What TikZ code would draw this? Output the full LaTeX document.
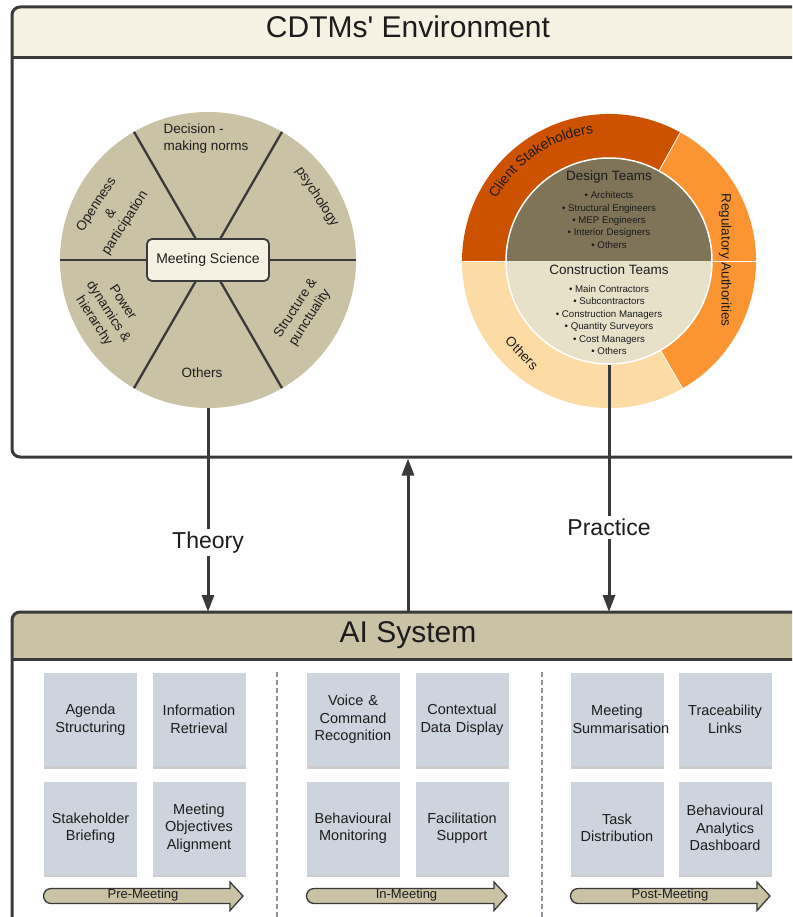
\documentclass[tikz,border=0pt]{standalone}
\usepackage{fontspec}
\setmainfont{Liberation Sans}
\usetikzlibrary{arrows.meta,shadows,decorations.text,calc}

\definecolor{boxink}{HTML}{3A3A3A}
\definecolor{envhead}{HTML}{F6F2E3}
\definecolor{khaki}{HTML}{CAC2A5}
\definecolor{notefill}{HTML}{CED4DD}
\definecolor{clientorange}{HTML}{CC5200}
\definecolor{regorange}{HTML}{FB9533}
\definecolor{otherpeach}{HTML}{FDDBA5}
\definecolor{designbrown}{HTML}{7F7358}
\definecolor{constcream}{HTML}{E7E1CA}
\definecolor{textink}{HTML}{1C1C1C}
\definecolor{dashgray}{HTML}{8E949C}

\newcommand\myfs[2]{\fontsize{#1pt}{#2pt}\selectfont}

% rounded-tail arrow used for the meeting phases: #1 left x, #2 tip x, #3 name, #4 label
\newcommand\phasearrow[4]{%
  \draw[phasebar] (#1+8,-903.5) arc[start angle=270,end angle=90,radius=7.5]
    -- (#2-13,-888.5) -- (#2-13,-882) -- (#2,-896) -- (#2-13,-910.5)
    -- (#2-13,-903.5) -- cycle;
  \node[phaselabel] (#3) at ({(#1+#2)/2},-895.5) {#4};}

\begin{document}
\begin{tikzpicture}[x=1pt,y=1pt,
  boxline/.style={draw=boxink,line width=3pt},
  headtitle/.style={font=\myfs{30}{36},text=textink,inner sep=0pt},
  spoke/.style={draw=boxink,line width=2.3pt},
  hubbox/.style={draw=boxink,line width=1.8pt,fill=envhead,rounded corners=5pt,
    minimum width=122pt,minimum height=42pt,font=\myfs{14}{17},text=textink},
  sector/.style={font=\myfs{13.5}{17},text=textink,align=center,inner sep=0pt},
  teamhead/.style={font=\myfs{13.5}{16},text=textink,inner sep=0pt},
  teamlist/.style={font=\myfs{9.7}{12.4},text=textink,align=center,inner sep=0pt},
  ringtext/.style={font=\myfs{13.5}{16},text=textink,inner sep=0pt},
  flowarrow/.style={draw=boxink,line width=3pt,-{Triangle[length=17pt,width=12pt]}},
  flowlabel/.style={font=\myfs{23}{27},text=textink,fill=white,inner sep=3pt},
  sticky/.style={fill=notefill,minimum width=93pt,minimum height=93pt,inner sep=2pt,
    text width=89pt,align=center,font=\myfs{14.5}{17.5},text=textink,
    drop shadow={shadow xshift=0pt,shadow yshift=-2.5pt,opacity=0.4}},
  phasebar/.style={draw=boxink,line width=1.3pt,fill=khaki},
  phaselabel/.style={font=\myfs{13}{15},text=textink,inner sep=0pt},
  divider/.style={draw=dashgray,line width=1.3pt,dash pattern=on 5pt off 3pt}]

\useasboundingbox (0,0) rectangle (792,-917);
\clip (0,0) rectangle (792,-917);
\fill[white] (0,0) rectangle (792,-917);

% ---------- environment frame ----------
\fill[envhead,rounded corners=8pt] (12,-57.5) |- (800,-7) [sharp corners] -- (800,-57.5) -- cycle;
\draw[boxline,rounded corners=8pt] (800,-457) -| (12,-7) -- (800,-7);
\draw[boxline] (12,-57.5) -- (800,-57.5);
\node[headtitle,anchor=base] (envtitle) at (408,-38) {CDTMs\textquotesingle{} Environment};

% ---------- meeting science pie ----------
\coordinate (P) at (208,-260);
\node[circle,fill=khaki,minimum size=296pt,inner sep=0pt] (pie) at (P) {};
\foreach \a in {0,60,120}
  \draw[spoke] ($(P)+(\a:148)$) -- ($(P)+(\a+180:148)$);
\node[hubbox] (science) at (P) {Meeting Science};

\node[sector,align=left] (decision) at (206,-139) {Decision -\\making norms};
\node[sector,rotate=-57] (psych) at (317,-197) {psychology};
\node[sector,rotate=57] (structure) at (303,-313) {Structure \&\\punctuality};
\node[sector] (pieothers) at (202,-373) {Others};
\node[sector,rotate=-57] (power) at (108,-312) {Power\\dynamics \&\\hierarchy};
\node[sector,rotate=57] (open) at (111,-214) {Openness\\\&\\participation};

% ---------- stakeholder donut ----------
\coordinate (D) at (609,-261);
\fill[clientorange] (D) -- ++(61:147) arc[start angle=61,end angle=180,radius=147] -- cycle;
\fill[regorange] (D) -- ++(-60:147) arc[start angle=-60,end angle=61,radius=147] -- cycle;
\fill[otherpeach] (D) -- ++(180:147) arc[start angle=180,end angle=300,radius=147] -- cycle;
\foreach \a in {61,180,300,0}
  \draw[white,line width=0.8pt] (D) -- ++(\a:147);
\fill[designbrown] (D) ++(0:103) arc[start angle=0,end angle=180,radius=103] -- cycle;
\fill[constcream] (D) ++(180:103) arc[start angle=180,end angle=360,radius=103] -- cycle;
\node[circle,draw=white,line width=1.5pt,minimum size=206pt,inner sep=0pt] (inner) at (D) {};

\path[decorate,decoration={text along path,text align=center,
  text={|\myfs{14}{16}\color{textink}|Client Stakeholders}}]
  (D) ++(170:128.5) arc[start angle=170,end angle=78,radius=128.5];
\node[ringtext,rotate=-90] (regulatory) at (725,-260) {Regulatory Authorities};
\node[ringtext,rotate=-46] (ringothers) at (522,-353) {Others};

\node[teamhead] (design) at (609,-177) {Design Teams};
\node[teamlist] (designlist) at (609,-220)
  {• Architects\\• Structural Engineers\\• MEP Engineers\\• Interior Designers\\• Others};
\node[teamhead] (construction) at (609,-270) {Construction Teams};
\node[teamlist] (constructionlist) at (609,-320)
  {• Main Contractors\\• Subcontractors\\• Construction Managers\\• Quantity Surveyors\\• Cost Managers\\• Others};

% ---------- AI system frame ----------
\fill[khaki,rounded corners=8pt] (12,-659.5) |- (800,-612) [sharp corners] -- (800,-659.5) -- cycle;
\draw[boxline,rounded corners=8pt] (12,-930) |- (800,-612);
\draw[boxline] (12,-659.5) -- (800,-659.5);
\node[headtitle,anchor=base] (aititle) at (408,-642) {AI System};

% ---------- links between the two frames ----------
\coordinate (aitop) at (0,-612);
\coordinate (aimid) at (408,-612);
\coordinate (envbot) at (408,-458.5);
\draw[flowarrow] (pie.south) -- node[flowlabel,pos=0.658] (theory) {Theory} (pie.south |- aitop);
\draw[flowarrow] (inner.south) -- node[flowlabel,pos=0.657] (practice) {Practice} (inner.south |- aitop);
\draw[flowarrow] (aimid) -- (envbot);

% ---------- AI capabilities ----------
\node[sticky] (agenda) at (90.5,-719.5) {Agenda\\Structuring};
\node[sticky] (retrieval) at (199,-719.5) {Information\\Retrieval};
\node[sticky] (briefing) at (90.5,-828) {Stakeholder\\Briefing};
\node[sticky] (objectives) at (199,-828) {Meeting\\Objectives\\Alignment};

\node[sticky] (voice) at (353,-719.5) {Voice \&\\Command\\Recognition};
\node[sticky] (context) at (462,-719.5) {Contextual\\Data Display};
\node[sticky] (behaviour) at (353,-828) {Behavioural\\Monitoring};
\node[sticky] (facilitation) at (462,-828) {Facilitation\\Support};

\node[sticky] (summary) at (617,-719.5) {Meeting\\Summarisation};
\node[sticky] (trace) at (725,-719.5) {Traceability\\Links};
\node[sticky] (tasks) at (617,-828) {Task\\Distribution};
\node[sticky] (dashboard) at (725,-828) {Behavioural\\Analytics\\Dashboard};

\draw[divider] (277,-672) -- (277,-917);
\draw[divider] (542,-672) -- (542,-917);

\phasearrow{43}{243}{pre}{Pre-Meeting}
\phasearrow{306}{507}{during}{In-Meeting}
\phasearrow{570}{770}{post}{Post-Meeting}

\end{tikzpicture}
\end{document}
